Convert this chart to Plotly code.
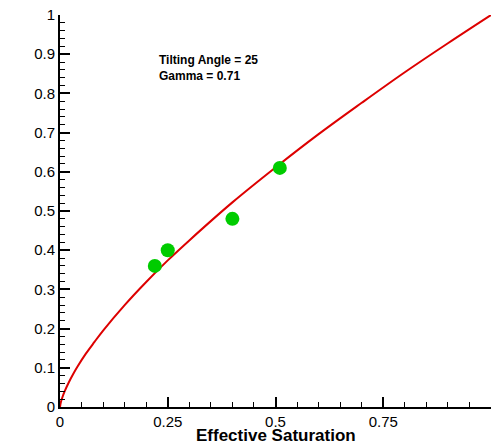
import plotly.graph_objects as go

# Fitted curve fa = S^gamma
curve_x = [0, 0.002, 0.005, 0.01, 0.02, 0.03, 0.04, 0.06, 0.08, 0.1, 0.15, 0.2, 0.25, 0.3, 0.4, 0.5, 0.6, 0.7, 0.8, 0.9, 1.0]
curve_y = [0, 0.012, 0.023, 0.038, 0.062, 0.083, 0.102, 0.136, 0.166, 0.195, 0.260, 0.319, 0.374, 0.425, 0.522, 0.611, 0.696, 0.776, 0.854, 0.928, 1.0]

# Measured points
pts_x = [0.22, 0.25, 0.40, 0.51]
pts_y = [0.36, 0.40, 0.48, 0.61]

x_ticks = [0, 0.25, 0.5, 0.75, 1]
x_labels = ["0", "0.25", "0.5", "0.75", "1"]
y_ticks = [0, 0.1, 0.2, 0.3, 0.4, 0.5, 0.6, 0.7, 0.8, 0.9, 1]
y_labels = ["0", "0.1", "0.2", "0.3", "0.4", "0.5", "0.6", "0.7", "0.8", "0.9", "1"]

FONT = "Liberation Sans, Arial"

fig = go.Figure()
fig.add_trace(go.Scatter(x=curve_x, y=curve_y, mode="lines",
                         line=dict(color="#DD0000", width=2, shape="spline"),
                         showlegend=False, hoverinfo="skip"))
fig.add_trace(go.Scatter(x=pts_x, y=pts_y, mode="markers",
                         marker=dict(color="#00CC00", size=14, line=dict(width=0)),
                         showlegend=False))

fig.add_annotation(x=0.225, y=0.866, xref="x", yref="y",
                   text="<b>Tilting Angle = 25<br>Gamma = 0.71</b>",
                   showarrow=False, xanchor="left", yanchor="middle", align="left",
                   font=dict(family=FONT, size=12, color="black"))

# Axis titles as annotations for exact placement
fig.add_annotation(x=0.5, y=-0.073, xref="x", yref="paper",
                   text="<b>Effective Saturation</b>", showarrow=False,
                   xanchor="center", yanchor="middle",
                   font=dict(family=FONT, size=17, color="black"))
fig.add_annotation(x=-0.095, y=0.49, xref="x", yref="paper",
                   text="<b>fa</b>", showarrow=False, textangle=-90,
                   xanchor="center", yanchor="middle",
                   font=dict(family=FONT, size=17, color="black"))

axis_common = dict(showline=True, linecolor="black", linewidth=2, mirror=False,
                   showgrid=False, zeroline=False, ticks="inside", ticklen=10,
                   tickwidth=2, tickcolor="black", automargin=False,
                   tickfont=dict(family=FONT, size=15, color="black"))

fig.update_xaxes(range=[0, 1], tickvals=x_ticks, ticktext=x_labels,
                 minor=dict(ticks="inside", ticklen=5, tickwidth=1, tickcolor="black", dtick=0.05, tick0=0),
                 **axis_common)
fig.update_yaxes(range=[0, 1], tickvals=y_ticks, ticktext=y_labels,
                 minor=dict(ticks="inside", ticklen=5, tickwidth=1, tickcolor="black", dtick=0.02, tick0=0),
                 **axis_common)

fig.update_layout(width=492, height=447, margin=dict(l=60, r=1, t=15, b=40),
                  plot_bgcolor="white", paper_bgcolor="white")

fig.write_html("out.html", config={"displayModeBar": False},
               post_script="document.body.style.margin='0';document.body.style.overflow='hidden';")
